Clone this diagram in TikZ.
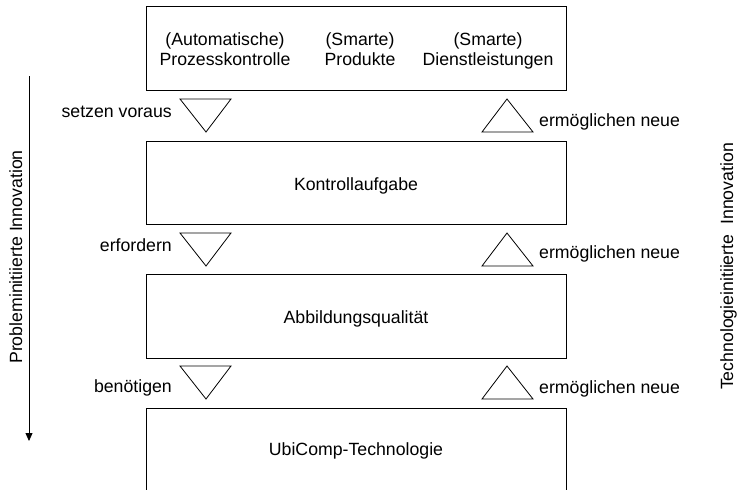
\documentclass[tikz,border=0pt]{standalone}
\usepackage{fontspec}
\setmainfont{Liberation Sans}
\usetikzlibrary{arrows.meta}
\begin{document}
\begin{tikzpicture}[x=1pt,y=-1pt,
  every node/.style={font=\fontsize{17.7}{20.7}\selectfont, inner sep=0pt},
  layer/.style={draw=black, line width=0.8pt},
  wedge/.style={draw=black, line width=0.8pt, line join=miter},
  flowlabel/.style={text=black},
  axis/.style={draw=black, line width=0.8pt, -{Triangle[width=7pt,length=8pt]}}]
  \useasboundingbox (0,0) rectangle (737,490);
  \clip (0,0) rectangle (737,490);

  % layers of the model
  \draw[layer] (146,6) rectangle (566,90);
  \draw[layer] (146,141) rectangle (566,224);
  \draw[layer] (146,274) rectangle (566,358);
  \draw[layer] (146,408) rectangle (566,492);

  % top layer: three columns
  \node[anchor=north, align=center] (col1) at (225,32.2) {(Automatische)\\Prozesskontrolle};
  \node[anchor=north, align=center] (col2) at (360,32.2) {(Smarte)\\Produkte};
  \node[anchor=north, align=center] (col3) at (488,32.2) {(Smarte)\\Dienstleistungen};

  \node[anchor=base] (kontrolle) at (356,190) {Kontrollaufgabe};
  \node[anchor=base] (abbildung) at (356,323) {Abbildungsqualität};
  \node[anchor=base] (ubicomp) at (356,455) {UbiComp-Technologie};

  % downward wedges (problem side)
  \draw[wedge] (180,99) -- (231,99) -- (206,132) -- cycle;
  \draw[wedge] (180,233) -- (231,233) -- (206,266) -- cycle;
  \draw[wedge] (180,366) -- (231,366) -- (206,399) -- cycle;

  % upward wedges (technology side)
  \draw[wedge] (482,132) -- (533,132) -- (507,99) -- cycle;
  \draw[wedge] (482,266) -- (533,266) -- (507,233) -- cycle;
  \draw[wedge] (482,399) -- (533,399) -- (507,366) -- cycle;

  % wedge labels
  \node[flowlabel, anchor=base east] (l1) at (172,117.5) {setzen voraus};
  \node[flowlabel, anchor=base east] (l2) at (172,251.5) {erfordern};
  \node[flowlabel, anchor=base east] (l3) at (172,392.5) {benötigen};
  \node[flowlabel, anchor=base west] (r1) at (539,126.5) {ermöglichen neue};
  \node[flowlabel, anchor=base west] (r2) at (539,258.5) {ermöglichen neue};
  \node[flowlabel, anchor=base west] (r3) at (539,393.5) {ermöglichen neue};

  % direction of innovation
  \coordinate (pstart) at (29,76);
  \coordinate (pend) at (29,441);
  \draw[axis] (pstart) -- (pend);
  \node[rotate=90, anchor=base] (plabel) at (22,257) {Probleminitiierte Innovation};
  \node[rotate=90, anchor=base] (tlabel) at (733,266.5) {Technologieinitiierte~~Innovation};
\end{tikzpicture}
\end{document}
